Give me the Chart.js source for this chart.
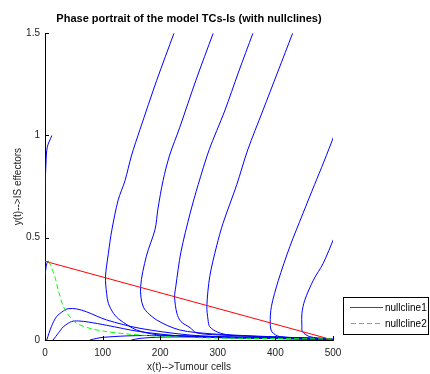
<!DOCTYPE html>
<html>
<head>
<meta charset="utf-8">
<script src="https://cdn.jsdelivr.net/npm/chart.js@4"></script>
<style>
  html, body { margin: 0; padding: 0; background: #fff; }
  #wrap { width: 430px; height: 374px; }
</style>
</head>
<body>
<div id="wrap"><canvas id="myChart" width="430" height="374"></canvas></div>
<script>
// tick values
var xTicks = [0, 100, 200, 300, 400, 500];
var yTicks = [0, 0.5, 1, 1.5];

// nullclines, [x, y]
var nullcline1 = [[0, 0.385], [500, 0]];
var nullcline2 = [[6, 0.383], [9, 0.37], [17, 0.31], [23, 0.244], [32, 0.163], [43, 0.114],
    [55, 0.081], [78, 0.057], [107, 0.041], [148, 0.028], [200, 0.018], [250, 0.012],
    [320, 0.009], [400, 0.007], [500, 0.005]];

// trajectories, [x, y]
var trajA = [[224, 1.5], [194, 1.27], [165, 1.03], [150, 0.9], [139, 0.78], [127, 0.684], [116, 0.537],
    [110, 0.423], [105, 0.309], [107, 0.228], [110, 0.179], [119, 0.13], [130, 0.098], [159, 0.049],
    [194, 0.026], [250, 0.02], [320, 0.015], [400, 0.01], [470, 0.005], [500, 0.002]];
var trajB = [[292, 1.5], [262, 1.27], [234, 1.04], [216, 0.9], [205, 0.78], [196, 0.64], [191, 0.54],
    [176, 0.41], [166, 0.26], [171, 0.16], [194, 0.098], [234, 0.049], [290, 0.03], [360, 0.02],
    [430, 0.012], [500, 0.003]];
var trajC = [[361, 1.5], [336, 1.31], [312, 1.12], [285, 0.93], [266, 0.76], [252, 0.62], [236, 0.43],
    [227, 0.26], [225, 0.21], [229, 0.13], [236, 0.09], [252, 0.06], [263, 0.035], [300, 0.025],
    [380, 0.016], [450, 0.01], [500, 0.003]];
var trajD = [[430, 1.5], [404, 1.31], [378, 1.12], [352, 0.93], [333, 0.76], [309, 0.57], [298, 0.46],
    [286, 0.31], [281, 0.166], [283, 0.1], [286, 0.065], [300, 0.038], [321, 0.024], [380, 0.016],
    [450, 0.01], [500, 0.003]];
var trajE = [[502, 1.0], [484, 0.87], [468, 0.76], [448, 0.62], [425, 0.456], [405, 0.29], [393, 0.163],
    [391, 0.08], [394, 0.04], [408, 0.016], [450, 0.01], [500, 0.003]];
var trajF = [[502, 0.5], [483, 0.375], [466, 0.293], [451, 0.195], [446, 0.13], [446, 0.07],
    [447, 0.04], [460, 0.016], [485, 0.008], [500, 0.003]];
var trajG = [[3, 0], [11, 0.065], [20, 0.114], [32, 0.142], [40, 0.153], [55, 0.152], [72, 0.138],
    [107, 0.098], [165, 0.057], [252, 0.024], [330, 0.014], [420, 0.008], [500, 0.002]];
var trajH = [[14, 0], [23, 0.033], [32, 0.065], [46, 0.09], [58, 0.093], [75, 0.088], [107, 0.072],
    [165, 0.041], [252, 0.016], [340, 0.01], [420, 0.006], [500, 0.002]];
var trajI = [[78, 0], [90, 0.008], [101, 0.013], [142, 0.02], [194, 0.022], [260, 0.018],
    [350, 0.012], [430, 0.007], [500, 0.002]];
var trajJ = [[150, 0], [165, 0.008], [200, 0.014], [252, 0.015], [300, 0.012], [350, 0.009],
    [430, 0.006], [500, 0.002]];
var trajK = [[12, 1.0], [4, 0.944], [1.7, 0.863], [0.4, 0.75], [0, 0.57]];
var trajL = [[0.5, 0.32], [2, 0.36], [5, 0.385], [8, 0.38]];

var trajectories = [trajA, trajB, trajC, trajD, trajE, trajF, trajG, trajH, trajI, trajJ, trajK, trajL];

var RED = '#ff0000', GREEN = '#00ff00', BLUE = '#0000ff';
var FONT = '"Liberation Sans", Arial, sans-serif';

function pts(arr) {
    return arr.map(function (p) { return { x: p[0], y: p[1] }; });
}

var datasets = [{
    label: 'nullcline1',
    data: pts(nullcline1),
    borderColor: RED,
    borderWidth: 1,
    order: 1
}, {
    label: 'nullcline2',
    data: pts(nullcline2),
    borderColor: GREEN,
    borderWidth: 1,
    borderDash: [5, 3],
    tension: 0.3,
    order: 0
}];
trajectories.forEach(function (t) {
    datasets.push({
        label: 'traj',
        data: pts(t),
        borderColor: BLUE,
        borderWidth: 1,
        tension: 0.3,
        order: 2
    });
});

// matlab style ticks pointing inwards
var inwardTicks = {
    id: 'inwardTicks',
    afterDraw: function (chart) {
        var c = chart.ctx, a = chart.chartArea;
        var xs = chart.scales.x, ys = chart.scales.y;
        c.save();
        c.fillStyle = '#000';
        xTicks.forEach(function (v) {
            var px = Math.round(xs.getPixelForValue(v));
            c.fillRect(px, a.bottom - 4, 1, 4);
        });
        yTicks.forEach(function (v) {
            var py = Math.round(ys.getPixelForValue(v));
            c.fillRect(a.left, py, 4, 1);
        });
        c.restore();
    }
};

// legend box at the lower right
var legendBox = {
    id: 'legendBox',
    afterDraw: function (chart) {
        var c = chart.ctx;
        c.save();
        c.fillStyle = '#fff';
        c.fillRect(343, 297, 86, 38);
        c.fillStyle = '#000';
        c.fillRect(343, 297, 86, 1);
        c.fillRect(343, 334, 86, 1);
        c.fillRect(343, 297, 1, 38);
        c.fillRect(428, 297, 1, 38);
        c.fillStyle = RED;
        c.fillRect(350, 307, 33, 1);
        c.fillStyle = GREEN;
        for (var x = 351; x < 383; x += 8) {
            c.fillRect(x, 323, Math.min(5, 383 - x), 1);
        }
        c.fillStyle = '#000';
        c.font = '10px ' + FONT;
        c.textBaseline = 'middle';
        c.fillText('nullcline1', 385, 308);
        c.fillText('nullcline2', 385, 324);
        c.restore();
    }
};

var chart = new Chart(document.getElementById('myChart').getContext('2d'), {
    type: 'scatter',
    data: { datasets: datasets },
    plugins: [inwardTicks, legendBox],
    options: {
        responsive: false,
        animation: false,
        showLine: true,
        elements: { point: { radius: 0 } },
        layout: { padding: { left: 0, right: 97, top: 0, bottom: 0 } },
        plugins: {
            legend: { display: false },
            tooltip: { enabled: false },
            title: {
                display: true,
                fullSize: false,
                text: 'Phase portrait of the model TCs-Is (with nullclines)',
                color: '#000',
                font: { family: FONT, size: 11, weight: 'bold' },
                padding: { top: 12, bottom: 8 }
            }
        },
        scales: {
            x: {
                type: 'linear',
                min: 0,
                max: 500,
                afterFit: function (s) { s.height = 34; },
                afterBuildTicks: function (s) { s.ticks = xTicks.map(function (v) { return { value: v }; }); },
                grid: { display: false, drawTicks: false },
                border: { display: true, color: '#000', width: 1 },
                ticks: {
                    padding: 7,
                    color: '#222',
                    maxRotation: 0,
                    font: { family: FONT, size: 10 },
                    callback: function (v) { return String(v); }
                },
                title: {
                    display: true,
                    text: 'x(t)-->Tumour cells',
                    color: '#222',
                    padding: { top: 0, bottom: 1 },
                    font: { family: FONT, size: 10 }
                }
            },
            y: {
                type: 'linear',
                min: 0,
                max: 1.5,
                afterFit: function (s) { s.width = 45; },
                afterBuildTicks: function (s) { s.ticks = yTicks.map(function (v) { return { value: v }; }); },
                grid: { display: false, drawTicks: false },
                border: { display: true, color: '#000', width: 1 },
                ticks: {
                    padding: 5,
                    color: '#222',
                    font: { family: FONT, size: 10 },
                    callback: function (v) { return String(v); }
                },
                title: {
                    display: true,
                    text: 'y(t)-->IS effectors',
                    color: '#222',
                    padding: { top: 12, bottom: 0 },
                    font: { family: FONT, size: 10 }
                }
            }
        }
    }
});
</script>
</body>
</html>
